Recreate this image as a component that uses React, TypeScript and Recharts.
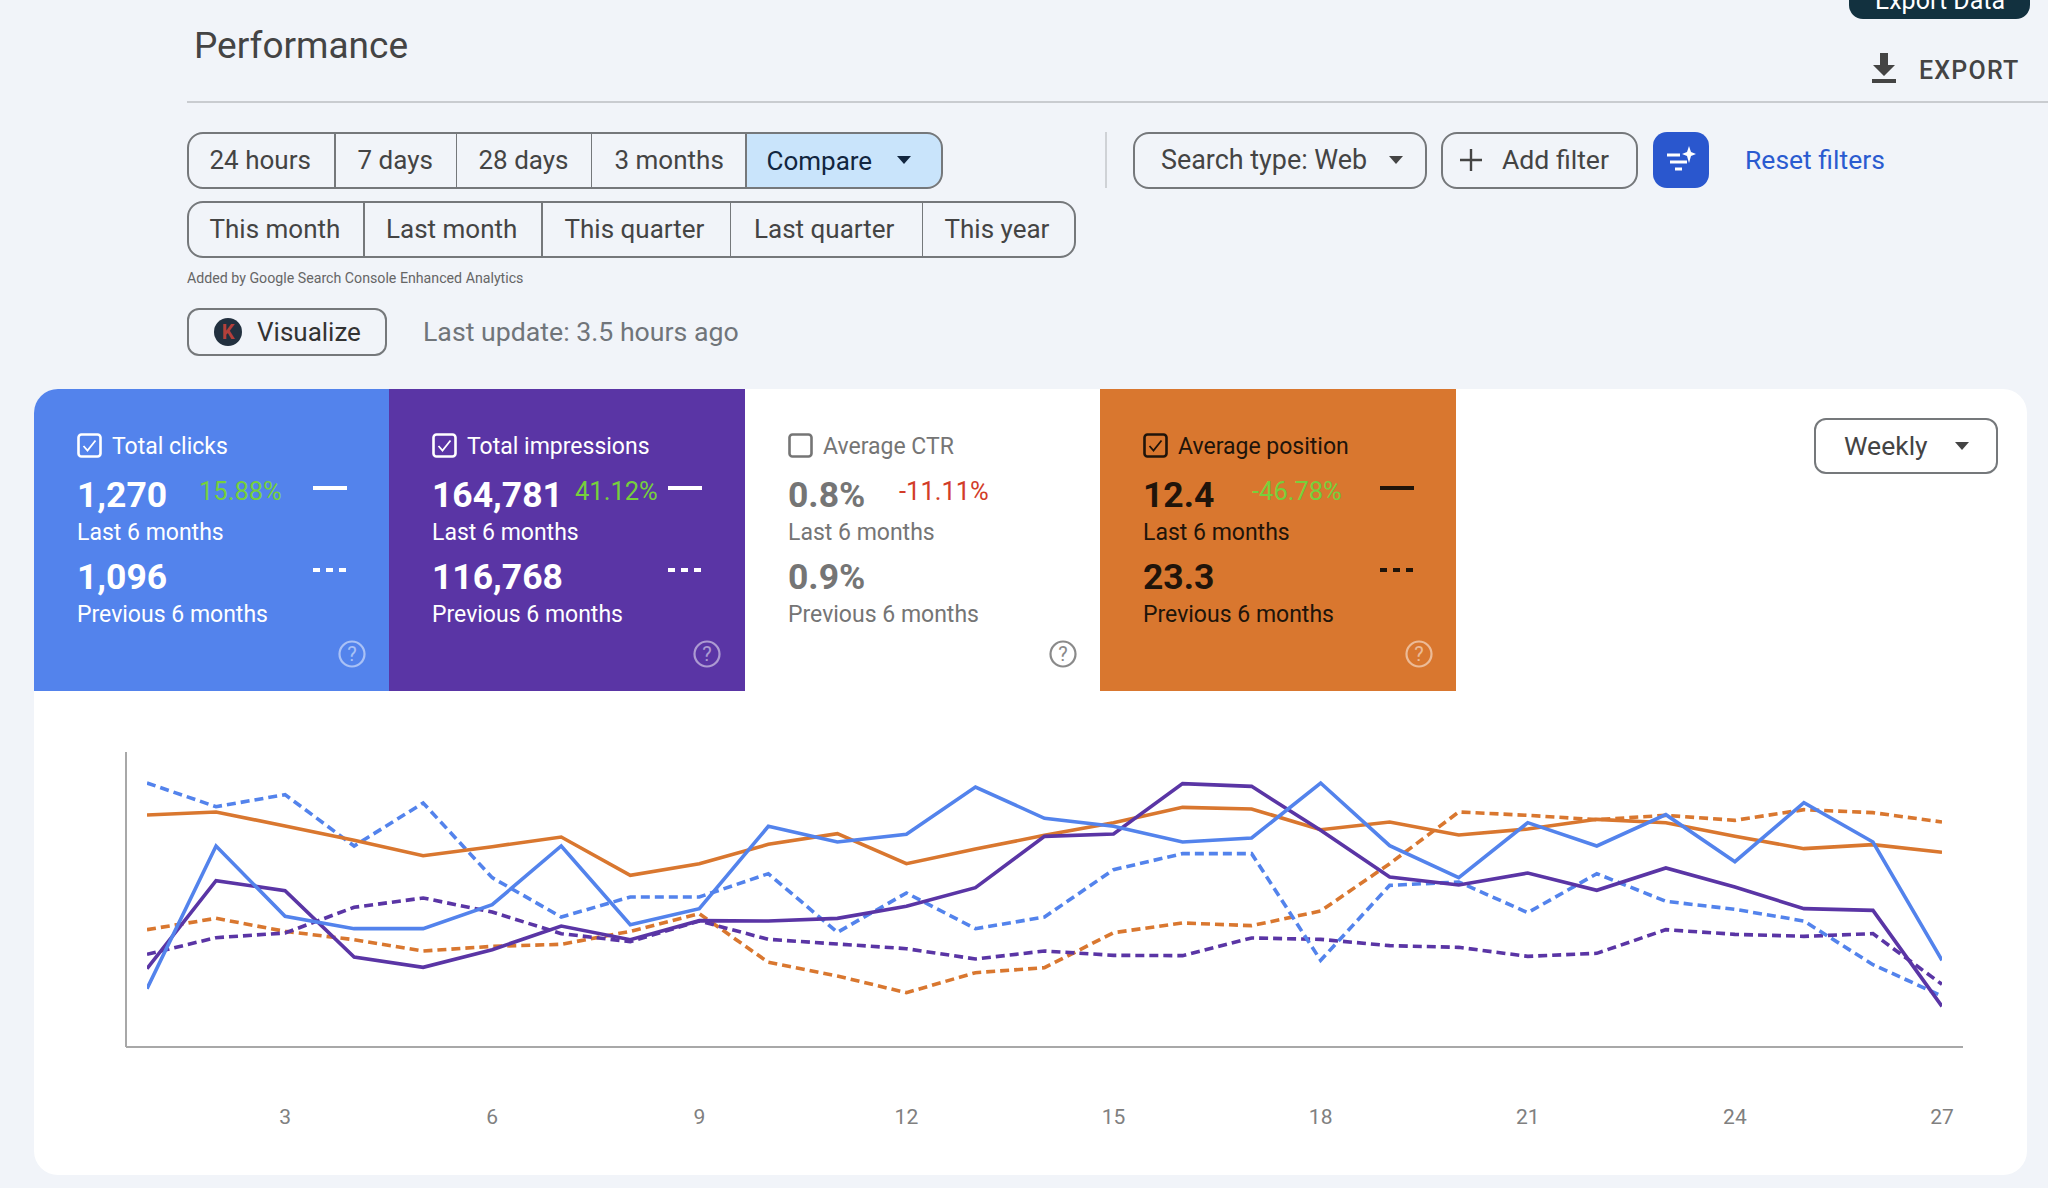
import React from "react";
import { LineChart, Line, XAxis, YAxis } from "recharts";

const days = [1,2,3,4,5,6,7,8,9,10,11,12,13,14,15,16,17,18,19,20,21,22,23,24,25,26,27];
const tickDays = [3,6,9,12,15,18,21,24,27];
const clicks = [175,603,392,355,355,427,603,367,415,662,615,638,780,686,662,615,627,792,604,508,673,603,697,556,733,615,260];
const clicksPrev = [792,721,757,603,732,508,390,450,450,520,344,462,355,390,532,580,580,260,485,495,403,520,437,413,378,247,153];
const impressions = [235,499,469,270,239,292,363,322,379,378,386,422,478,632,639,790,782,650,510,486,522,470,537,480,415,410,122];
const impressionsPrev = [278,328,342,419,447,405,340,316,378,323,309,295,264,288,275,274,327,323,304,299,272,281,352,338,332,340,188];
const position = [696,705,663,620,574,601,630,515,550,608,640,550,594,635,673,719,714,652,675,636,654,683,673,632,595,607,584];
const positionPrev = [352,386,347,322,288,302,308,347,400,254,213,163,223,238,343,372,364,408,550,705,695,682,695,680,712,703,675];

const tableRows = days.map((d, i) => ({
  day: d, clicks: clicks[i], clicksPrev: clicksPrev[i], impressions: impressions[i],
  impressionsPrev: impressionsPrev[i], position: position[i], positionPrev: positionPrev[i],
}));

const rangeButtons = [["24 hours",209.5],["7 days",357.5],["28 days",478.5],["3 months",614.5]] as const;
const rangeSeps = [334,455.5,590.5,745];
const periodButtons = [["This month",209.5],["Last month",386],["This quarter",564.5],["Last quarter",754],["This year",944.5]] as const;
const periodSeps = [363,541,729.5,921.5];

const BLUE = "#5383EC", PURPLE = "#5A35A5", ORANGE = "#D9772F";
const FONT = "Roboto, sans-serif";

const cards = [
  { title:"Total clicks", cur:"1,270", prev:"1,096", pct:"15.88%", pctColor:"#76D03C", x:34, w:355, bg:BLUE, fg:"#fff", pctX:199, dash:313, help:352, checked:true, helpColor:"rgba(255,255,255,.5)" },
  { title:"Total impressions", cur:"164,781", prev:"116,768", pct:"41.12%", pctColor:"#76D03C", x:389, w:356, bg:PURPLE, fg:"#fff", pctX:575, dash:668, help:707, checked:true, helpColor:"rgba(255,255,255,.5)" },
  { title:"Average CTR", cur:"0.8%", prev:"0.9%", pct:"-11.11%", pctColor:"#D23C28", x:745, w:355, bg:"#fff", fg:"#757575", pctX:899, dash:0, help:1063, checked:false, helpColor:"#8a8a8a" },
  { title:"Average position", cur:"12.4", prev:"23.3", pct:"-46.78%", pctColor:"#76D03C", x:1100, w:356, bg:ORANGE, fg:"#20140a", pctX:1252, dash:1380, help:1418.5, checked:true, helpColor:"rgba(255,255,255,.5)" },
];

const T = ({ x, y, size, color = "#444", weight = 400, children, w }: any) => (
  <div style={{ position:"absolute", left:x, top:y, transform:"translateY(-50%)", fontSize:size, color, fontWeight:weight, whiteSpace:"nowrap", lineHeight:1, fontFamily:FONT, letterSpacing:w }}>{children}</div>
);
const Box = ({ x, y, w, h, style }: any) => <div style={{ position:"absolute", left:x, top:y, width:w, height:h, boxSizing:"border-box", ...style }} />;
const Tri = ({ x, y, color = "#444" }: any) => (
  <svg style={{ position:"absolute", left:x-8, top:y-4 }} width="16" height="8"><path d="M1 0H15L8 8Z" fill={color} /></svg>
);
const Check = ({ x, y, color, checked }: any) => (
  <svg style={{ position:"absolute", left:x, top:y }} width="25" height="25">
    <rect x="1.5" y="1.5" width="22" height="22" rx="3" fill="none" stroke={color} strokeWidth="2.6" />
    {checked && <path d="M6.5 13L10.5 17.5L18.5 7.5" fill="none" stroke={color} strokeWidth="1.8" />}
  </svg>
);
const Help = ({ x, y, color }: any) => (
  <svg style={{ position:"absolute", left:x-14, top:y-14 }} width="28" height="28">
    <circle cx="14" cy="14" r="12.5" fill="none" stroke={color} strokeWidth="2.2" />
    <text x="14" y="21" textAnchor="middle" fontSize="20" fontFamily={FONT} fill={color}>?</text>
  </svg>
);
const Card = ({ c }: any) => {
  const tx = c.x + 43;
  return (
    <>
      <Box x={c.x} y={389} w={c.w} h={302} style={{ background:c.bg, borderTopLeftRadius:c.x === 34 ? 24 : 0 }} />
      <Check x={tx} y={433} color={c.fg} checked={c.checked} />
      <T x={tx+35} y={446} size={23} color={c.fg}>{c.title}</T>
      <T x={tx} y={496} size={35.5} weight={700} color={c.fg}>{c.cur}</T>
      <T x={c.pctX} y={492} size={25.5} color={c.pctColor}>{c.pct}</T>
      <T x={tx} y={532} size={23} color={c.fg}>Last 6 months</T>
      <T x={tx} y={578} size={35.5} weight={700} color={c.fg}>{c.prev}</T>
      <T x={tx} y={614} size={23} color={c.fg}>Previous 6 months</T>
      {c.dash > 0 && <Box x={c.dash} y={486} w={34} h={4} style={{ background:c.fg }} />}
      {c.dash > 0 && [0,13,26].map((d) => <Box key={d} x={c.dash+d} y={568} w={7} h={4} style={{ background:c.fg }} />)}
      <Help x={c.help} y={654} color={c.helpColor} />
    </>
  );
};

const btnBorder = "2px solid #75787b";

export default function App() {
  return (
    <div style={{ position:"absolute", left:0, top:0, width:2048, height:1188, overflow:"hidden", background:"#F1F4F9", fontFamily:FONT }}>
      <T x={194} y={45} size={37} color="#444">Performance</T>
      <Box x={187} y={101} w={1861} h={2} style={{ background:"#c9ccd0" }} />
      <Box x={1849} y={-30} w={181} h={49} style={{ background:"#12313F", borderRadius:14 }} />
      <T x={1875} y={0} size={25} color="#fff">Export Data</T>
      <svg style={{ position:"absolute", left:1870, top:52 }} width="28" height="34">
        <path d="M10 1H18V13H25L14 24L3 13H10Z" fill="#444" /><rect x="2" y="27" width="24" height="4" fill="#444" />
      </svg>
      <T x={1919} y={70} size={25} weight={500} color="#444" w={1.2}>EXPORT</T>

      <Box x={745} y={133} w={197} h={54} style={{ background:"#C9E4FB", borderRadius:"0 15px 15px 0" }} />
      <Box x={187} y={132} w={756} h={57} style={{ border:btnBorder, borderRadius:16 }} />
      {rangeSeps.map((x) => <Box key={x} x={x} y={133} w={1.5} h={55} style={{ background:"#75787b" }} />)}
      {rangeButtons.map(([t, x]) => <T key={t} x={x} y={160} size={26} color="#444">{t}</T>)}
      <T x={766.5} y={161} size={26} color="#12263f">Compare</T>
      <Tri x={904} y={160} color="#12263f" />

      <Box x={187} y={201} w={889} h={57} style={{ border:btnBorder, borderRadius:16 }} />
      {periodSeps.map((x) => <Box key={x} x={x} y={202} w={1.5} h={55} style={{ background:"#75787b" }} />)}
      {periodButtons.map(([t, x]) => <T key={t} x={x} y={229} size={26} color="#444">{t}</T>)}
      <T x={187} y={278} size={14.2} color="#666">Added by Google Search Console Enhanced Analytics</T>

      <Box x={187} y={308} w={200} h={47.5} style={{ border:"2.5px solid #75787b", borderRadius:12 }} />
      <svg style={{ position:"absolute", left:214, top:318 }} width="28" height="28">
        <circle cx="14" cy="14" r="14" fill="#22303f" />
        <text x="14" y="21" textAnchor="middle" fontSize="20" fontFamily={FONT} fontWeight="700" fill="#b5403a">K</text>
      </svg>
      <T x={257} y={332} size={26} color="#333">Visualize</T>
      <T x={423} y={332} size={26.7} color="#70757a">Last update: 3.5 hours ago</T>

      <Box x={1105} y={132} w={1.5} h={56} style={{ background:"#cfd2d6" }} />
      <Box x={1133} y={132} w={294} h={57} style={{ border:btnBorder, borderRadius:16 }} />
      <T x={1161} y={160} size={26.9} color="#444">Search type: Web</T>
      <Tri x={1396} y={160} />
      <Box x={1441} y={132} w={197} h={57} style={{ border:btnBorder, borderRadius:16 }} />
      <svg style={{ position:"absolute", left:1459, top:148 }} width="24" height="24"><path d="M12 1V23M1 12H23" stroke="#444" strokeWidth="2.4" /></svg>
      <T x={1502} y={160} size={26.6} color="#444">Add filter</T>
      <Box x={1653} y={132} w={56} h={56} style={{ background:"#2A57CE", borderRadius:14 }} />
      <svg style={{ position:"absolute", left:1665, top:142 }} width="34" height="36">
        <path d="M2 13H15M5 20H22M10 27H17" stroke="#fff" strokeWidth="3" />
        <path d="M24 4L26 10L31 12L26 14L24 21L22 14L17 12L22 10Z" fill="#fff" />
      </svg>
      <T x={1745} y={160} size={26.5} color="#2A5BD0">Reset filters</T>

      <Box x={34} y={389} w={1993} h={786} style={{ background:"#fff", borderRadius:24 }} />
      <Box x={745} y={689} w={355} h={2} style={{ background:"#e2e2e2" }} />
      {cards.map((c) => <Card key={c.title} c={c} />)}

      <Box x={1814} y={418} w={184} h={56} style={{ border:btnBorder, borderRadius:12, background:"#fff" }} />
      <T x={1844} y={446} size={26.5} color="#444">Weekly</T>
      <Tri x={1962} y={446} />

      <div style={{ position:"absolute", left:34, top:700 }}>
        <LineChart width={1990} height={460} data={tableRows} margin={{ left:91, right:61, top:52, bottom:13 }}>
          <XAxis dataKey="day" type="number" domain={[1,27]} ticks={tickDays} padding={{ left:21, right:21 }}
            height={100} tickSize={0} tickMargin={62} interval={0} allowDataOverflow
            axisLine={{ stroke:"#a8a8a8", strokeWidth:2 }} tickLine={false}
            tick={{ fill:"#808080", fontSize:21, fontFamily:FONT }} />
          <YAxis domain={[0,885]} width={1} tick={false} tickLine={false} axisLine={{ stroke:"#a8a8a8", strokeWidth:2 }} />
          <Line dataKey="positionPrev" stroke={ORANGE} strokeWidth={3.6} strokeDasharray="9 5" dot={false} isAnimationActive={false} />
          <Line dataKey="impressionsPrev" stroke={PURPLE} strokeWidth={3.6} strokeDasharray="9 5" dot={false} isAnimationActive={false} />
          <Line dataKey="clicksPrev" stroke={BLUE} strokeWidth={3.6} strokeDasharray="9 5" dot={false} isAnimationActive={false} />
          <Line dataKey="position" stroke={ORANGE} strokeWidth={3.6} dot={false} isAnimationActive={false} />
          <Line dataKey="impressions" stroke={PURPLE} strokeWidth={3.6} dot={false} isAnimationActive={false} />
          <Line dataKey="clicks" stroke={BLUE} strokeWidth={3.6} dot={false} isAnimationActive={false} />
        </LineChart>
      </div>
    </div>
  );
}
